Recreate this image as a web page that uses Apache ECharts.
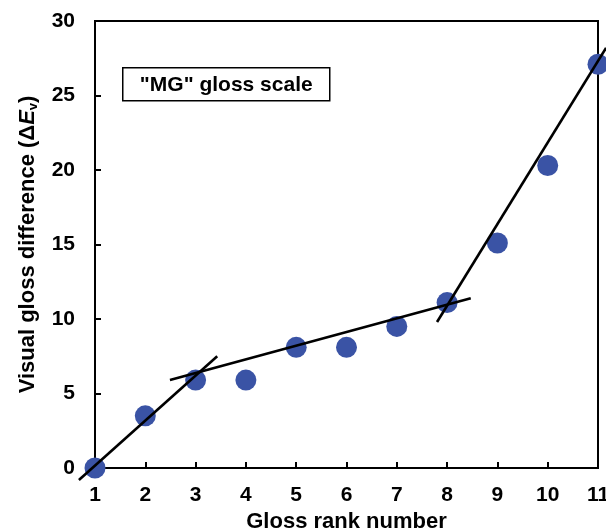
<!DOCTYPE html>
<html><head><meta charset="utf-8">
<script src="https://cdn.jsdelivr.net/npm/echarts@6/dist/echarts.min.js"></script>
<style>html,body{margin:0;padding:0;background:#fff}#c{width:606px;height:530px}</style>
</head><body><div id="c"></div>
<script>
const rankNumbers = [1, 2, 3, 4, 5, 6, 7, 8, 9, 10, 11];
const glossDifference = [0, 3.5, 5.9, 5.9, 8.1, 8.1, 9.5, 11.1, 15.1, 20.3, 27.1];
const fitLine1 = [[0.68, -0.8], [3.43, 7.5]];
const fitLine2 = [[2.49, 5.9], [8.47, 11.4]];
const fitLine3 = [[7.8, 9.8], [11.16, 28.2]];
const legendLabel = '"MG" gloss scale';
const xTitle = 'Gloss rank number';

const chart = echarts.init(document.getElementById('c'));
const font = 'Liberation Sans, Arial, Helvetica, sans-serif';
// Main plot grid: 95..598 px for x 1..11, 21..468 px for y 0..30
const G = { left: 95, right: 8, top: 21, bottom: 62 };
const xUnit = (606 - G.left - G.right) / 10;
const yUnit = (530 - G.top - G.bottom) / 30;
const lineSeries = (d) => ({
  type: 'line', data: d, symbol: 'none', clip: false, silent: true, z: 5,
  xAxisIndex: 1, yAxisIndex: 1,
  lineStyle: { color: '#000', width: 2.6 }
});
chart.setOption({
  animation: false,
  grid: [
    Object.assign({ containLabel: false, outerBoundsMode: 'none', show: true, borderColor: '#000', borderWidth: 2, backgroundColor: 'transparent' }, G),
    // same scale extended by one x unit and 5 y units each side, so fit lines may run past the frame
    { left: G.left - xUnit, right: G.right - xUnit, top: G.top - 5 * yUnit, bottom: G.bottom - 5 * yUnit,
      containLabel: false, outerBoundsMode: 'none', show: false }
  ],
  xAxis: [{
    type: 'value', min: 1, max: 11, interval: 1, gridIndex: 0,
    name: xTitle, nameLocation: 'middle', nameGap: 43,
    nameTextStyle: { fontFamily: font, fontWeight: 'bold', fontSize: 22, color: '#000' },
    axisLine: { lineStyle: { color: '#000', width: 2 } },
    axisTick: { inside: true, length: 6, lineStyle: { color: '#000', width: 2 } },
    axisLabel: { fontFamily: font, fontWeight: 'bold', fontSize: 21, color: '#000', margin: 17, showMaxLabel: true, showMinLabel: true },
    splitLine: { show: false }
  }, {
    type: 'value', min: 0, max: 12, gridIndex: 1, show: false, splitLine: { show: false }
  }],
  yAxis: [{
    type: 'value', min: 0, max: 30, interval: 5, gridIndex: 0,
    name: '{a|Visual gloss difference (Δ}{e|E}{s|v}{a|)}', nameLocation: 'middle', nameGap: 55, nameRotate: 90,
    nameTextStyle: {
      rich: {
        a: { fontFamily: font, fontWeight: 'bold', fontSize: 22, color: '#000' },
        e: { fontFamily: font, fontWeight: 'bold', fontStyle: 'italic', fontSize: 22, color: '#000' },
        s: { fontFamily: font, fontWeight: 'bold', fontSize: 13, color: '#000', verticalAlign: 'bottom', padding: [12, 0, 0, 0] }
      }
    },
    axisLine: { show: true, lineStyle: { color: '#000', width: 2 } },
    axisTick: { show: true, inside: true, length: 6, lineStyle: { color: '#000', width: 2 } },
    axisLabel: { fontFamily: font, fontWeight: 'bold', fontSize: 21, color: '#000', margin: 20 },
    splitLine: { show: false }
  }, {
    type: 'value', min: -5, max: 35, gridIndex: 1, show: false, splitLine: { show: false }
  }],
  series: [
    {
      type: 'scatter', data: rankNumbers.map((x, i) => [x, glossDifference[i]]),
      symbolSize: 21, clip: false, z: 2,
      itemStyle: { color: '#3A53A5', opacity: 1 }
    },
    lineSeries(fitLine1), lineSeries(fitLine2), lineSeries(fitLine3)
  ],
  graphic: [{
    type: 'group', left: 122, top: 67,
    children: [
      { type: 'rect', shape: { x: 0, y: 0, width: 207, height: 33 }, style: { fill: '#fff', stroke: '#000', lineWidth: 1.5 } },
      { type: 'text', x: 103.5, y: 17, style: { text: legendLabel, font: 'bold 21px ' + font, fill: '#000', align: 'center', verticalAlign: 'middle' } }
    ]
  }]
});
</script></body></html>
